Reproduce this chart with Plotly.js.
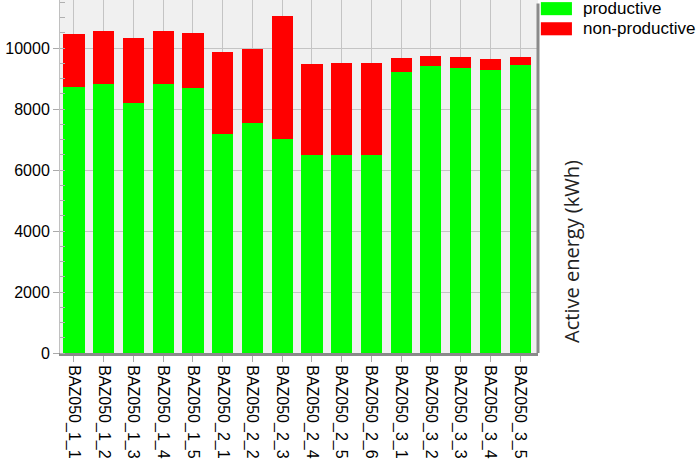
<!DOCTYPE html>
<html>
<head>
<meta charset="utf-8">
<script src="https://cdn.plot.ly/plotly-3.0.1.min.js"></script>
<style>html,body{margin:0;padding:0;background:#fff}#chart{width:700px;height:467px}</style>
</head>
<body>
<div id="chart"></div>
<script>
const categories = ["BAZ050_1_1","BAZ050_1_2","BAZ050_1_3","BAZ050_1_4","BAZ050_1_5",
  "BAZ050_2_1","BAZ050_2_2","BAZ050_2_3","BAZ050_2_4","BAZ050_2_5","BAZ050_2_6",
  "BAZ050_3_1","BAZ050_3_2","BAZ050_3_3","BAZ050_3_4","BAZ050_3_5"];
const productive = [8740, 8820, 8190, 8810, 8680, 7170, 7530, 7010, 6480, 6500, 6510, 9220, 9410, 9350, 9300, 9460];
const nonProductive = [1740, 1740, 2130, 1750, 1830, 2700, 2450, 4050, 3010, 3020, 2990, 470, 340, 370, 360, 250];
const seriesNames = ["productive", "non-productive"];
const seriesColors = ["#00ff00", "#ff0000"];
const yTitle = "Active energy (kWh)";

const traces = [
  {type: "bar", x: categories, y: productive, name: seriesNames[0],
   marker: {color: seriesColors[0], line: {width: 0}}, width: 0.71, showlegend: false},
  {type: "bar", x: categories, y: nonProductive, name: seriesNames[1],
   marker: {color: seriesColors[1], line: {width: 0}}, width: 0.71, showlegend: false}
];

const shapes = [
  {type: "line", xref: "paper", yref: "paper", x0: 1, x1: 1, y0: 0, y1: 0.99,
   line: {color: "#8a8a8a", width: 3}},
  {type: "rect", xref: "paper", yref: "paper", x0: 1.006, x1: 1.071, y0: 0.957, y1: 0.994,
   fillcolor: seriesColors[0], line: {width: 0}},
  {type: "rect", xref: "paper", yref: "paper", x0: 1.006, x1: 1.071, y0: 0.9, y1: 0.937,
   fillcolor: seriesColors[1], line: {width: 0}}
];

const annotations = [
  {xref: "paper", yref: "paper", x: 1.09, y: 0.976, xanchor: "left", yanchor: "middle",
   text: seriesNames[0], showarrow: false, font: {family: "Arial, Liberation Sans", size: 17, color: "#000"}},
  {xref: "paper", yref: "paper", x: 1.09, y: 0.918, xanchor: "left", yanchor: "middle",
   text: seriesNames[1], showarrow: false, font: {family: "Arial, Liberation Sans", size: 17, color: "#000"}},
  {xref: "paper", yref: "paper", x: 1.071, y: 0.289, xanchor: "center", yanchor: "middle",
   text: yTitle, textangle: -90, showarrow: false, font: {family: "Open Sans, Arial", size: 20, color: "#222"}}
];

const layout = {
  width: 700, height: 467,
  margin: {l: 60, r: 162, t: 0, b: 114, pad: 0},
  paper_bgcolor: "#ffffff",
  plot_bgcolor: "#f0f0f0",
  barmode: "stack",
  font: {family: "Arial, Liberation Sans", size: 16, color: "#000"},
  xaxis: {
    type: "category",
    range: [-0.47, 15.6],
    tickangle: 90,
    tickfont: {family: "Arial, Liberation Sans", size: 16, color: "#000"},
    showgrid: true, gridcolor: "#c4c4c4", gridwidth: 1,
    ticks: "outside", ticklen: 6, tickcolor: "#aaaaaa",
    showline: true, linecolor: "#8a8a8a", linewidth: 3,
    zeroline: false, fixedrange: true
  },
  yaxis: {
    range: [0, 11580],
    dtick: 2000, tick0: 0,
    tickformat: "d",
    tickfont: {family: "Arial, Liberation Sans", size: 16, color: "#000"},
    showgrid: true, gridcolor: "#c4c4c4", gridwidth: 1,
    ticks: "outside", ticklen: 6, tickcolor: "#aaaaaa",
    minor: {dtick: 500, ticks: "inside", ticklen: 5, tickcolor: "#b0b0b0", showgrid: false},
    showline: true, linecolor: "#c0c0c0", linewidth: 1,
    zeroline: false, fixedrange: true
  },
  shapes: shapes,
  annotations: annotations
};

Plotly.newPlot("chart", traces, layout, {displayModeBar: false, staticPlot: true});
</script>
</body>
</html>
